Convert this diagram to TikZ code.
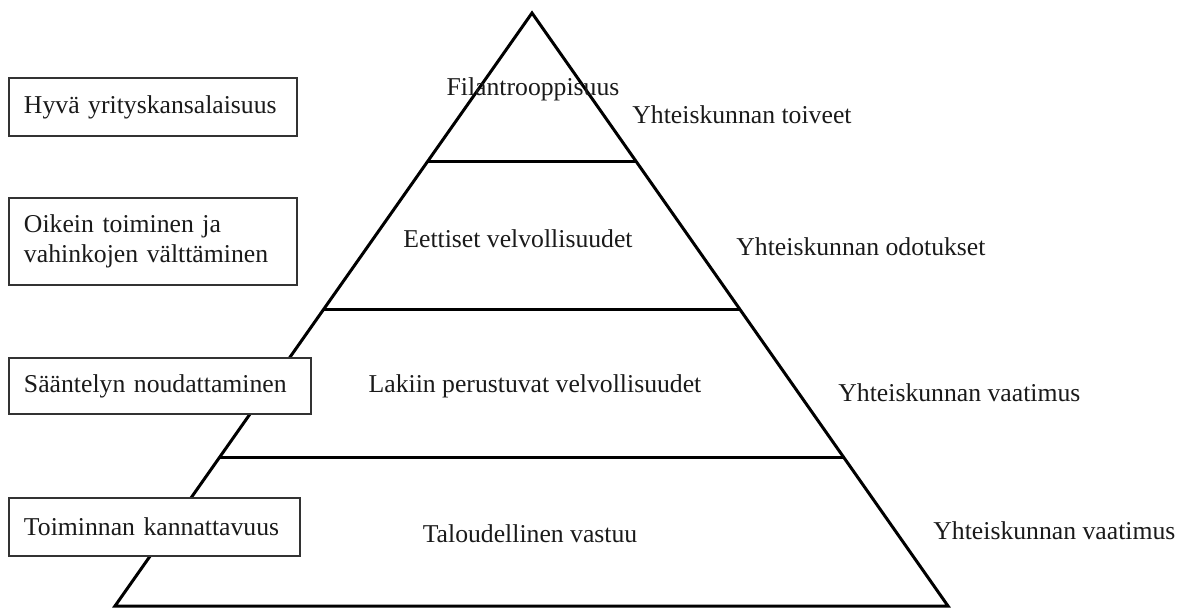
\documentclass[tikz,border=0pt]{standalone}
\usepackage{fontspec}
\setmainfont{Liberation Serif}
\usetikzlibrary{calc}
\definecolor{clrline}{HTML}{000000}
\definecolor{clrborder}{HTML}{333333}
\definecolor{clrtext}{HTML}{1A1A1A}
\begin{document}
\begin{tikzpicture}[
    x=0.5pt, y=-0.5pt,
    every node/.style={font=\fontsize{12.85}{15}\selectfont, text=clrtext},
    sidebox/.style={draw=clrborder, line width=1pt, fill=white, inner xsep=7.5pt,
                    inner ysep=0pt, align=left, anchor=north west},
    layer/.style={draw=clrline, line width=1.5pt, line join=miter},
    tier/.style={anchor=base},
    demand/.style={anchor=base west, inner sep=0pt},
]
\useasboundingbox (0,0) rectangle (1182,608);
% pyramid
\coordinate (apex) at (532,13);
\coordinate (base_l) at (115,606);
\coordinate (base_r) at (948,606);
\coordinate (lvl_1_l) at ($(apex)!0.25!(base_l)$);
\coordinate (lvl_1_r) at ($(apex)!0.25!(base_r)$);
\coordinate (lvl_2_l) at ($(apex)!0.5!(base_l)$);
\coordinate (lvl_2_r) at ($(apex)!0.5!(base_r)$);
\coordinate (lvl_3_l) at ($(apex)!0.75!(base_l)$);
\coordinate (lvl_3_r) at ($(apex)!0.75!(base_r)$);
\draw[layer] (apex) -- (base_l) -- (base_r) -- cycle;
\draw[layer] (lvl_1_l) -- (lvl_1_r);
\draw[layer] (lvl_2_l) -- (lvl_2_r);
\draw[layer] (lvl_3_l) -- (lvl_3_r);
% tiers
\node[tier] (t_1) at (533,96) {Filantrooppisuus};
\node[tier] (t_2) at (518,248) {Eettiset velvollisuudet};
\node[tier] (t_3) at (535,393) {Lakiin perustuvat velvollisuudet};
\node[tier] (t_4) at (530,542) {Taloudellinen vastuu};
% right side
\node[demand] (d_1) at (632,124) {Yhteiskunnan toiveet};
\node[demand] (d_2) at (736,256) {Yhteiskunnan odotukset};
\node[demand] (d_3) at (838,402) {Yhteiskunnan vaatimus};
\node[demand] (d_4) at (933,539) {Yhteiskunnan vaatimus};
% left side
\node[sidebox, minimum width=144pt, minimum height=29pt, text width=129pt] (b_1) at (8,77) {Hyvä yrityskansalaisuus};
\node[sidebox, minimum width=144pt, minimum height=43.5pt, text width=129pt] (b_2) at (8,197) {Oikein toiminen ja\\vahinkojen välttäminen};
\node[sidebox, minimum width=151pt, minimum height=28pt, text width=136pt] (b_3) at (8,357) {Sääntelyn noudattaminen};
\node[sidebox, minimum width=145.5pt, minimum height=29pt, text width=130.5pt] (b_4) at (8,497) {Toiminnan kannattavuus};
\end{tikzpicture}
\end{document}
